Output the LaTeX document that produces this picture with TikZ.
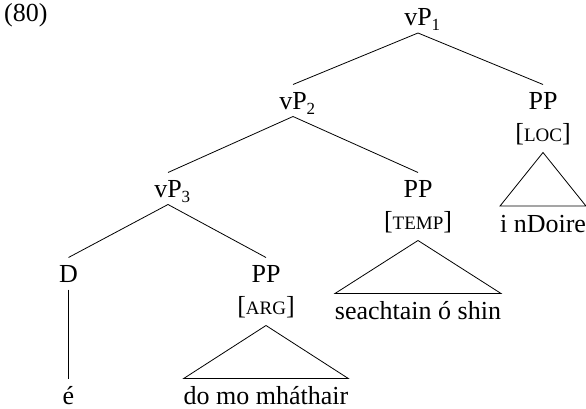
\documentclass[tikz,border=0pt]{standalone}
\usepackage{fontspec}
\setmainfont{Liberation Serif}
\newcommand\trsub[1]{\rlap{\raisebox{-5pt}{\fontsize{17}{17}\selectfont #1}}}
\newcommand\fakesc[1]{{\fontsize{19}{19}\selectfont #1}}
\begin{document}
\begin{tikzpicture}[x=1pt,y=-1pt,
  font=\fontsize{26}{31}\selectfont,
  cat/.style={anchor=base,inner sep=0pt,outer sep=0pt,text height=25pt,text depth=7pt},
  feat/.style={anchor=base,inner sep=0pt,outer sep=0pt,text height=18pt,text depth=11pt},
  term/.style={anchor=base,inner sep=0pt,outer sep=0pt,text height=26pt,text depth=5pt},
  branch/.style={line width=0.8pt}]
\useasboundingbox (0,0) rectangle (586,409);
\node[anchor=base west,inner sep=0pt] (ex) at (4,22) {(80)};
% categories
\node[cat] (vp1) at (418,26) {vP\trsub{1}};
\node[cat] (vp2) at (293,109.5) {vP\trsub{2}};
\node[cat] (pp1) at (543,109.5) {PP};
\node[cat] (vp3) at (168,197.5) {vP\trsub{3}};
\node[cat] (pp2) at (418,197.5) {PP};
\node[cat] (d) at (68.5,282.5) {D};
\node[cat] (pp3) at (266,282.5) {PP};
% features
\node[feat] (loc) at (543,141.5) {[\fakesc{LOC}]};
\node[feat] (temp) at (418,229.5) {[\fakesc{TEMP}]};
\node[feat] (arg) at (266,314.5) {[\fakesc{ARG}]};
% terminals
\node[term] (t1) at (543,232) {i nDoire};
\node[term] (t2) at (418,319.5) {seachtain ó shin};
\node[term] (t3) at (266,404.5) {do mo mháthair};
\node[term] (t4) at (68.5,404.5) {é};
% branches
\draw[branch] (vp1.south) -- (vp2.north);
\draw[branch] (vp1.south) -- (pp1.north);
\draw[branch] (vp2.south) -- (vp3.north);
\draw[branch] (vp2.south) -- (pp2.north);
\draw[branch] (vp3.south) -- (d.north);
\draw[branch] (vp3.south) -- (pp3.north);
\draw[branch] (d.south) -- (t4.north);
% triangles
\draw[branch] (loc.south) -- (t1.north west) -- (t1.north east) -- cycle;
\draw[branch] (temp.south) -- (t2.north west) -- (t2.north east) -- cycle;
\draw[branch] (arg.south) -- (t3.north west) -- (t3.north east) -- cycle;
\end{tikzpicture}
\end{document}
